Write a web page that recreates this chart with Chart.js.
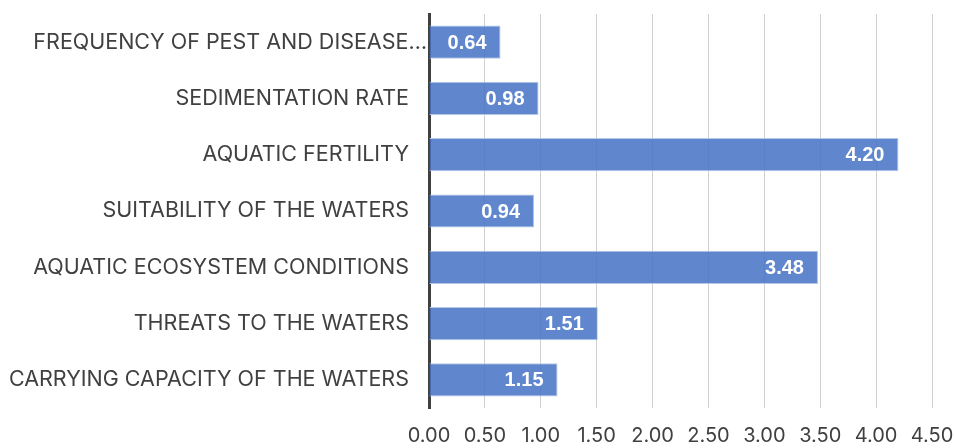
<!DOCTYPE html>
<html>
<head>
<meta charset="utf-8">
<script src="https://cdn.jsdelivr.net/npm/chart.js@4/dist/chart.umd.min.js"></script>
<style>
  html, body { margin: 0; padding: 0; background: #fff; }
  #wrap { width: 955px; height: 448px; }
</style>
</head>
<body>
<div id="wrap"><canvas id="chart"></canvas></div>
<script>
const categories = [
    'FREQUENCY OF PEST AND DISEASE\u2026',
    'SEDIMENTATION RATE',
    'AQUATIC FERTILITY',
    'SUITABILITY OF THE WATERS',
    'AQUATIC ECOSYSTEM CONDITIONS',
    'THREATS TO THE WATERS',
    'CARRYING CAPACITY OF THE WATERS'
];
const values = [0.64, 0.98, 4.20, 0.94, 3.48, 1.51, 1.15];
const xTicks = [0, 0.5, 1, 1.5, 2, 2.5, 3, 3.5, 4, 4.5];

// category labels; the truncated one runs up to the axis like in the original
const categoryLabels = {
    id: 'categoryLabels',
    afterDraw(chart) {
        const ctx = chart.ctx;
        const y = chart.scales.y;
        ctx.save();
        ctx.font = '21.5px Inter, sans-serif';
        ctx.fillStyle = '#404040';
        ctx.textAlign = 'right';
        ctx.textBaseline = 'middle';
        categories.forEach((c, i) => {
            const right = c.endsWith('\u2026') ? y.right - 2 : y.right - 20;
            ctx.fillText(c, right, y.getPixelForTick(i));
        });
        ctx.restore();
    }
};

// draws the value inside the end of each bar
const valueLabels = {
    id: 'valueLabels',
    afterDatasetsDraw(chart) {
        const ctx = chart.ctx;
        const meta = chart.getDatasetMeta(0);
        ctx.save();
        ctx.font = 'bold 20px "Liberation Sans", Arial, sans-serif';
        ctx.fillStyle = '#ffffff';
        ctx.textAlign = 'right';
        ctx.textBaseline = 'middle';
        meta.data.forEach((bar, i) => {
            ctx.fillText(values[i].toFixed(2), bar.x - 14, bar.y + 1);
        });
        ctx.restore();
    }
};

new Chart(document.getElementById('chart'), {
    type: 'bar',
    data: {
        labels: categories,
        datasets: [{
            data: values,
            backgroundColor: 'rgba(68, 114, 196, 0.85)',
            borderColor: '#b4c7e7',
            borderWidth: 1,
            categoryPercentage: 1,
            barPercentage: 0.59
        }]
    },
    options: {
        indexAxis: 'y',
        responsive: true,
        maintainAspectRatio: false,
        animation: false,
        layout: { padding: { top: 14, right: 23, left: 0, bottom: 0 } },
        plugins: {
            legend: { display: false },
            tooltip: { enabled: false }
        },
        scales: {
            x: {
                min: 0,
                max: 4.5,
                afterBuildTicks: scale => {
                    scale.ticks = xTicks.map(v => ({ value: v }));
                },
                afterFit: scale => {
                    scale.height = 40;
                    scale.paddingLeft = 0;
                    scale.paddingRight = 0;
                },
                grid: { color: '#d0d0d0', lineWidth: 1, drawTicks: false },
                border: { display: false },
                ticks: {
                    padding: 16,
                    color: '#404040',
                    font: { family: 'Inter', size: 20 },
                    callback: v => Number(v).toFixed(2)
                }
            },
            y: {
                afterFit: scale => {
                    scale.width = 429;
                    scale.paddingTop = 0;
                    scale.paddingBottom = 0;
                },
                grid: { display: false, drawTicks: false },
                border: { display: true, color: '#404040', width: 3 },
                ticks: { display: false }
            }
        }
    },
    plugins: [valueLabels, categoryLabels]
});
</script>
</body>
</html>
